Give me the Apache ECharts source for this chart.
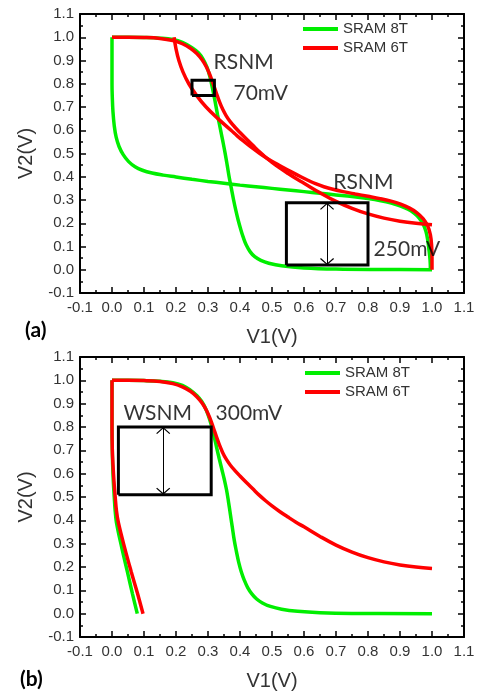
<!DOCTYPE html>
<html>
<head>
<meta charset="utf-8">
<script src="https://cdn.jsdelivr.net/npm/echarts@6/dist/echarts.min.js"></script>
<style>
  html, body { margin: 0; padding: 0; background: #fff; }
  #chart { width: 478px; height: 693px; }
</style>
</head>
<body>
<div id="chart"></div>
<script>
// Series names shown in both legends
const legendNames = ['SRAM 8T', 'SRAM 6T'];

// Axis range shared by every axis (volts)
const axisMin = -0.1;
const axisMax = 1.1;
const axisStep = 0.1;

// (a) read mode: 8T transfer curve and its mirrored branch
const readVtc8T = [
  [0, 1.0], [0.05, 1.0], [0.1, 0.999], [0.15, 0.996], [0.19, 0.99], [0.22, 0.978],
  [0.25, 0.955], [0.27, 0.933], [0.285, 0.905], [0.297, 0.87], [0.306, 0.83], [0.314, 0.78],
  [0.322, 0.725], [0.33, 0.665], [0.338, 0.61], [0.346, 0.555], [0.353, 0.505], [0.36, 0.45],
  [0.366, 0.4], [0.373, 0.35], [0.38, 0.3], [0.387, 0.255], [0.394, 0.215], [0.402, 0.175],
  [0.41, 0.14], [0.42, 0.105], [0.432, 0.077], [0.446, 0.056], [0.465, 0.04], [0.49, 0.028],
  [0.53, 0.017], [0.6, 0.008], [0.7, 0.003], [0.85, 0.001], [1.0, 0.0]
];
const readMirror8T = [
  [0, 1.0], [0, 0.9], [0, 0.8], [0.001, 0.74], [0.003, 0.68], [0.007, 0.62], [0.013, 0.57],
  [0.022, 0.53], [0.035, 0.495], [0.052, 0.465], [0.072, 0.443], [0.095, 0.428], [0.125, 0.416],
  [0.16, 0.407], [0.2, 0.399], [0.25, 0.389], [0.3, 0.38], [0.35, 0.372], [0.4, 0.364],
  [0.45, 0.357], [0.5, 0.35], [0.55, 0.343], [0.6, 0.336], [0.65, 0.329], [0.7, 0.322],
  [0.75, 0.315], [0.8, 0.306], [0.84, 0.297], [0.87, 0.288], [0.9, 0.275], [0.925, 0.26],
  [0.945, 0.242], [0.96, 0.222], [0.972, 0.197], [0.981, 0.165], [0.987, 0.125], [0.991, 0.08],
  [0.994, 0.04], [0.995, 0.0]
];

// 6T transfer curve (used in both panels) and its mirrored read branch
const vtc6T = [
  [0, 1.0], [0.05, 1.0], [0.1, 0.999], [0.15, 0.995], [0.19, 0.986], [0.22, 0.972],
  [0.245, 0.953], [0.265, 0.93], [0.282, 0.902], [0.295, 0.872], [0.306, 0.838], [0.316, 0.8],
  [0.326, 0.76], [0.336, 0.722], [0.346, 0.69], [0.357, 0.662], [0.37, 0.636], [0.385, 0.612],
  [0.4, 0.59], [0.42, 0.562], [0.44, 0.535], [0.46, 0.508], [0.48, 0.484], [0.5, 0.462],
  [0.525, 0.437], [0.55, 0.414], [0.575, 0.392], [0.6, 0.372], [0.65, 0.331], [0.7, 0.294],
  [0.75, 0.264], [0.8, 0.24], [0.85, 0.222], [0.9, 0.209], [0.95, 0.2], [1.0, 0.194]
];
const mirror6T = [
  [0.194, 1.0], [0.2, 0.95], [0.209, 0.9], [0.222, 0.85], [0.24, 0.8], [0.264, 0.75],
  [0.294, 0.7], [0.331, 0.65], [0.372, 0.6], [0.392, 0.575], [0.414, 0.55], [0.437, 0.525],
  [0.462, 0.5], [0.484, 0.48], [0.508, 0.46], [0.535, 0.44], [0.562, 0.42], [0.59, 0.4],
  [0.612, 0.385], [0.636, 0.37], [0.662, 0.357], [0.69, 0.346], [0.722, 0.336], [0.76, 0.326],
  [0.8, 0.316], [0.838, 0.306], [0.872, 0.295], [0.902, 0.282], [0.93, 0.265], [0.953, 0.245],
  [0.972, 0.22], [0.986, 0.19], [0.995, 0.15], [0.999, 0.1], [1.0, 0.05], [1.0, 0.0]
];

// (b) write mode
const writeVtc8T = [
  [0, 1.0], [0.05, 1.0], [0.1, 0.999], [0.15, 0.996], [0.19, 0.99], [0.22, 0.978],
  [0.245, 0.958], [0.265, 0.935], [0.28, 0.91], [0.292, 0.88], [0.302, 0.845], [0.311, 0.805],
  [0.319, 0.76], [0.327, 0.712], [0.335, 0.665], [0.343, 0.62], [0.351, 0.575], [0.358, 0.53],
  [0.364, 0.48], [0.37, 0.425], [0.376, 0.37], [0.382, 0.315], [0.389, 0.265], [0.396, 0.22],
  [0.404, 0.18], [0.413, 0.145], [0.424, 0.112], [0.437, 0.085], [0.452, 0.063], [0.47, 0.046],
  [0.495, 0.031], [0.53, 0.019], [0.58, 0.01], [0.65, 0.004], [0.75, 0.001], [1.0, 0.0]
];
const writeBranch8T = [
  [0, 1.0], [0, 0.8], [0.001, 0.7], [0.002, 0.64], [0.004, 0.57], [0.007, 0.5], [0.01, 0.44],
  [0.014, 0.39], [0.031, 0.28], [0.048, 0.18], [0.064, 0.085], [0.079, 0.0]
];
const writeBranch6T = [
  [0, 1.0], [0, 0.8], [0.001, 0.7], [0.003, 0.64], [0.006, 0.57], [0.01, 0.5], [0.014, 0.44],
  [0.02, 0.39], [0.04, 0.28], [0.06, 0.18], [0.08, 0.085], [0.097, 0.0]
];

// Noise-margin squares: [lower-left corner, upper-right corner]
const rsnmSmallBox = [[0.25, 0.75], [0.32, 0.815]];
const rsnmLargeBox = [[0.545, 0.02], [0.8, 0.288]];
const wsnmBox = [[0.02, 0.51], [0.31, 0.8]];

// Double-headed arrows: [x, yTop, yBottom]
const rsnmArrow = [0.672, 0.288, 0.02];
const wsnmArrow = [0.16, 0.8, 0.51];

// Text notes: [text, x of left edge, y of middle]
const notesA = [
  ['RSNM', 0.316, 0.894],
  ['70mV', 0.378, 0.76],
  ['RSNM', 0.69, 0.375],
  ['250mV', 0.816, 0.089]
];
const notesB = [
  ['WSNM', 0.034, 0.858],
  ['300mV', 0.322, 0.858]
];

const GREEN = '#00ee00';
const RED = '#ff0000';
const tickFont = '"Liberation Sans", Arial, sans-serif';
const noteFont = 'Lato';

const grids = [
  { left: 80, top: 14, width: 384, height: 279 },
  { left: 80, top: 357, width: 384, height: 280 }
];

function valueAxis(gridIndex, position, withLabels, name) {
  const isX = position === 'bottom' || position === 'top';
  const ax = {
    type: 'value',
    gridIndex: gridIndex,
    position: position,
    min: axisMin,
    max: axisMax,
    interval: axisStep,
    axisLine: { show: true, onZero: false, lineStyle: { color: '#000', width: 2 } },
    axisTick: { show: true, inside: true, length: 6, lineStyle: { color: '#000', width: 1.5 } },
    minorTick: { show: true, splitNumber: 2, length: 3, lineStyle: { color: '#000', width: 1.5 } },
    splitLine: { show: false },
    axisLabel: {
      show: withLabels,
      margin: isX ? 7 : 6,
      fontFamily: tickFont,
      fontSize: 15,
      color: '#333',
      formatter: v => v.toFixed(1)
    }
  };
  if (name) {
    ax.name = name;
    ax.nameLocation = 'middle';
    ax.nameGap = isX ? 34 : 44;
    ax.nameTextStyle = { fontFamily: tickFont, fontSize: 20, color: '#333' };
    if (!isX) ax.nameRotate = 90;
  }
  return ax;
}

function curve(name, data, color, axisIndex) {
  return {
    type: 'line',
    name: name,
    data: data,
    xAxisIndex: axisIndex,
    yAxisIndex: axisIndex,
    smooth: 0.4,
    symbol: 'none',
    lineStyle: { color: color, width: 3.5 },
    itemStyle: { color: color },
    silent: true,
    z: 3
  };
}

function box(corners, axisIndex) {
  const [p0, p1] = corners;
  return {
    type: 'line',
    name: 'box',
    data: [[p0[0], p0[1]], [p1[0], p0[1]], [p1[0], p1[1]], [p0[0], p1[1]], [p0[0], p0[1]]],
    xAxisIndex: axisIndex,
    yAxisIndex: axisIndex,
    symbol: 'none',
    lineStyle: { color: '#000', width: 3, join: 'miter' },
    silent: true,
    z: 4
  };
}

// Open arrowhead: the tip sits at the centre of the path's bounding box
// (a tiny dot beyond the tip balances it), so it lands on the line end.
const chevron = 'path://M0,0 L6.5,6 L5.7,6.8 L0,1.5 L-5.7,6.8 L-6.5,6 Z M0,-6.8 L0.01,-6.8 L0,-6.79 Z';

function arrow(spec, axisIndex) {
  const [x, y0, y1] = spec;
  return {
    type: 'line',
    name: 'arrow',
    data: [],
    xAxisIndex: axisIndex,
    yAxisIndex: axisIndex,
    symbol: 'none',
    silent: true,
    markLine: {
      silent: true,
      symbol: [chevron, chevron],
      symbolSize: 14,
      label: { show: false },
      lineStyle: { color: '#000', width: 1, type: 'solid' },
      data: [[{ coord: [x, y0] }, { coord: [x, y1] }]]
    },
    z: 4
  };
}

function notes(list, axisIndex) {
  return {
    type: 'scatter',
    name: 'notes',
    xAxisIndex: axisIndex,
    yAxisIndex: axisIndex,
    symbolSize: 1,
    itemStyle: { color: 'rgba(0,0,0,0)' },
    silent: true,
    data: list.map(([text, x, y]) => ({
      value: [x, y],
      label: {
        show: true,
        position: 'right',
        distance: 0,
        formatter: text,
        fontFamily: noteFont,
        fontSize: 21,
        color: '#000'
      }
    })),
    z: 5
  };
}

function legend(left, top) {
  return {
    data: legendNames,
    orient: 'vertical',
    left: left,
    top: top,
    padding: 0,
    itemGap: 4,
    itemWidth: 35,
    itemHeight: 4,
    icon: 'rect',
    selectedMode: false,
    textStyle: { fontFamily: tickFont, fontSize: 15, color: '#333', lineHeight: 15 }
  };
}

const chart = echarts.init(document.getElementById('chart'), null, { renderer: 'canvas' });

chart.setOption({
  animation: false,
  backgroundColor: '#fff',
  grid: grids,
  xAxis: [
    valueAxis(0, 'bottom', true, 'V1(V)'),
    valueAxis(0, 'top', false),
    valueAxis(1, 'bottom', true, 'V1(V)'),
    valueAxis(1, 'top', false)
  ],
  yAxis: [
    valueAxis(0, 'left', true, 'V2(V)'),
    valueAxis(0, 'right', false),
    valueAxis(1, 'left', true, 'V2(V)'),
    valueAxis(1, 'right', false)
  ],
  legend: [legend(303, 21.5), legend(305, 365.5)],
  graphic: [
    {
      type: 'text', left: 25, top: 320,
      style: { text: '(a)', fontFamily: 'Lato', fontSize: 21, fontWeight: 'bold', fill: '#000' }
    },
    {
      type: 'text', left: 20, top: 669,
      style: { text: '(b)', fontFamily: 'Lato', fontSize: 21, fontWeight: 'bold', fill: '#000' }
    }
  ],
  series: [
    curve('SRAM 8T', readVtc8T, GREEN, 0),
    curve('SRAM 8T', readMirror8T, GREEN, 0),
    curve('SRAM 6T', vtc6T, RED, 0),
    curve('SRAM 6T', mirror6T, RED, 0),
    box(rsnmSmallBox, 0),
    box(rsnmLargeBox, 0),
    arrow(rsnmArrow, 0),
    notes(notesA, 0),

    curve('SRAM 8T', writeVtc8T, GREEN, 2),
    curve('SRAM 8T', writeBranch8T, GREEN, 2),
    curve('SRAM 6T', vtc6T, RED, 2),
    curve('SRAM 6T', writeBranch6T, RED, 2),
    box(wsnmBox, 2),
    arrow(wsnmArrow, 2),
    notes(notesB, 2)
  ]
});
</script>
</body>
</html>
